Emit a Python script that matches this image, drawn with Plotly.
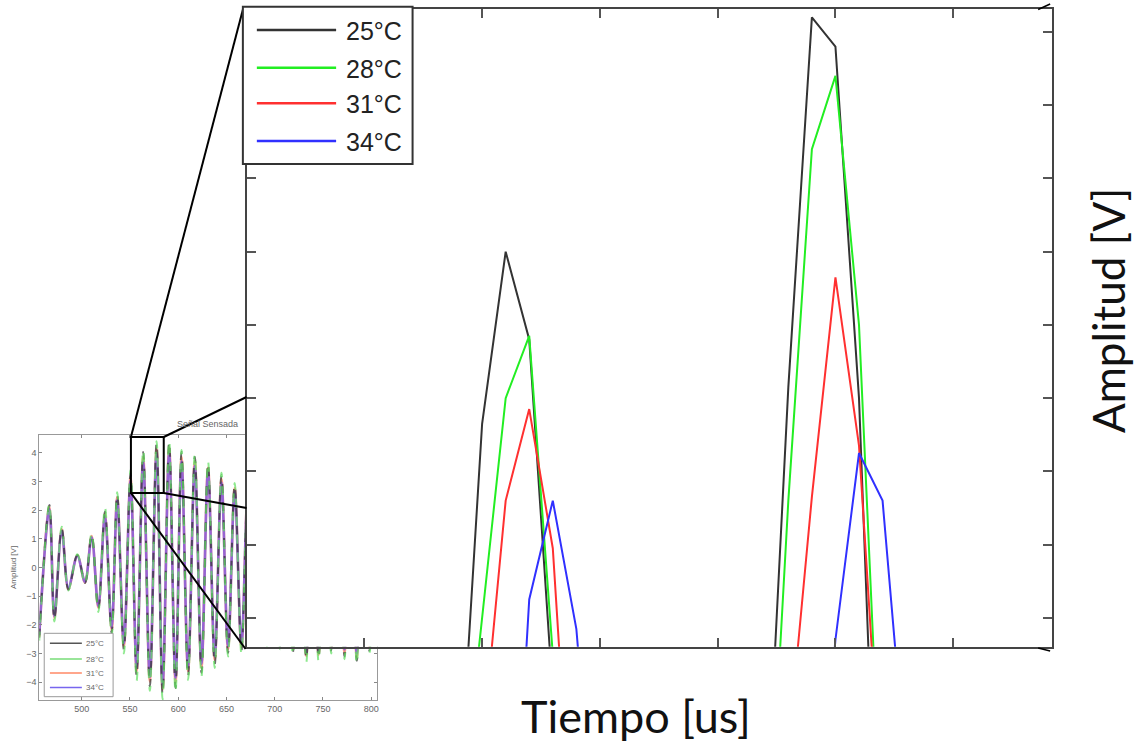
import plotly.graph_objects as go

# ---------------- data: overview signal (extrema) ----------------
t_small = [456, 466.5, 471.7, 479.3, 486.2, 495.5, 503.4, 510.3, 517.2, 524.1,
           531, 536.8, 543.7, 550.6, 556.9, 563.7, 570.6, 577.6, 583.8, 590.6,
           597.2, 603.4, 610.2, 617.2, 624.1, 630.9, 637.8, 644.8, 651.6, 658.5,
           665.5, 672, 678.5, 685, 692, 698.5, 705.5, 712, 718.8, 725.5,
           732.7, 739, 745.4, 752, 758.5, 765.5, 772.3, 778.5, 785, 791.5,
           798, 805]
amp_25 = [-2.45, 2.18, -1.82, 1.37, -0.78, 0.44, -0.54, 1.14, -1.47, 1.95,
          -2.28, 2.56, -2.86, 3.28, -3.79, 4.03, -4.14, 4.35, -4.43, 4.38,
          -4.20, 4.03, -3.79, 3.86, -3.67, 3.63, -3.38, 3.22, -2.98, 2.88,
          -2.90, 2.70, -2.70, 2.60, -2.65, 2.60, -2.75, 2.70, -2.95, 2.80,
          -3.20, 2.80, -3.15, 2.70, -2.90, 2.70, -3.10, 2.80, -3.25, 2.80,
          -2.90, 2.50]
amp_28 = [-2.55, 2.22, -1.88, 1.42, -0.80, 0.46, -0.56, 1.20, -1.55, 2.10,
          -2.40, 2.62, -3.00, 3.40, -3.95, 4.10, -4.30, 4.40, -4.60, 4.42,
          -4.35, 4.10, -3.92, 3.95, -3.80, 3.70, -3.50, 3.30, -3.10, 2.95,
          -3.00, 2.78, -2.80, 2.66, -2.75, 2.66, -2.85, 2.76, -3.05, 2.86,
          -3.30, 2.86, -3.28, 2.76, -3.00, 2.76, -3.20, 2.86, -3.35, 2.86,
          -3.00, 2.55]
amp_31 = [-2.40, 2.12, -1.76, 1.33, -0.74, 0.42, -0.52, 1.10, -1.40, 1.88,
          -2.18, 2.45, -2.75, 3.15, -3.62, 3.85, -3.98, 4.15, -4.25, 4.18,
          -4.02, 3.86, -3.62, 3.70, -3.50, 3.48, -3.22, 3.08, -2.85, 2.76,
          -2.78, 2.60, -2.60, 2.50, -2.55, 2.50, -2.64, 2.60, -2.84, 2.70,
          -3.08, 2.70, -3.04, 2.60, -2.80, 2.60, -2.98, 2.70, -3.12, 2.70,
          -2.80, 2.40]
amp_34 = [-2.35, 2.05, -1.70, 1.28, -0.70, 0.40, -0.50, 1.05, -1.34, 1.80,
          -2.10, 2.35, -2.64, 3.02, -3.48, 3.70, -3.82, 4.00, -4.10, 4.02,
          -3.86, 3.70, -3.48, 3.55, -3.36, 3.34, -3.10, 2.96, -2.74, 2.65,
          -2.67, 2.50, -2.50, 2.40, -2.45, 2.40, -2.54, 2.50, -2.72, 2.60,
          -2.96, 2.60, -2.92, 2.50, -2.70, 2.50, -2.86, 2.60, -3.00, 2.60,
          -2.70, 2.30]

# ---------------- data: zoomed window (samples) ----------------
zx_25 = [559, 560, 561, 562, 563, 564, 572, 573, 574, 575, 576, 577]
zy_25 = [2.28, 3.33, 3.80, 3.56, 2.59, 2.20, 2.16, 3.43, 4.44, 4.36, 3.40, 1.69]
zx_28 = [559, 560, 561, 562, 563, 564, 572, 573, 574, 575, 576, 577]
zy_28 = [2.20, 2.80, 3.40, 3.57, 2.70, 2.20, 1.96, 3.12, 4.08, 4.28, 3.60, 2.16]
zx_31 = [560, 561, 562, 563, 564, 573, 574, 575, 576, 577]
zy_31 = [2.44, 3.12, 3.37, 2.99, 1.98, 2.44, 3.13, 3.73, 3.27, 2.25]
zx_34 = [561, 562, 563, 564, 565, 574, 575, 576, 577, 578]
zy_34 = [1.75, 2.85, 3.12, 2.77, 2.00, 2.00, 2.74, 3.25, 3.12, 2.37]

labels = ["25°C", "28°C", "31°C", "34°C"]
small_ticks_x = [500, 550, 600, 650, 700, 750, 800]
small_ticks_y = [-4, -3, -2, -1, 0, 1, 2, 3, 4]
zoom_ticks_x = [555, 560, 565, 570, 575, 580]
zoom_ticks_y = [2.8, 3.0, 3.2, 3.4, 3.6, 3.8, 4.0, 4.2, 4.4]
zoom_box_x = [551, 585]
zoom_box_y = [2.6, 4.55]

# ---------------- layout geometry ----------------
W, H = 1142, 742
def PX(px): return px / W
def PY(py): return 1 - py / H

sm_dom_x = [PX(39.3), PX(377.7)]
sm_dom_y = [PY(700), PY(435)]
sm_xr = [456, 806]
sm_yr = [-4.62, 4.62]
in_dom_x = [PX(247), PX(1054)]
in_dom_y = [PY(646.7), PY(9.3)]
in_xr = [550.0, 584.2]
in_yr = [2.721, 4.462]

def sx(v):
    return sm_dom_x[0] + (v - sm_xr[0]) / (sm_xr[1] - sm_xr[0]) * (sm_dom_x[1] - sm_dom_x[0])
def sy(v):
    return sm_dom_y[0] + (v - sm_yr[0]) / (sm_yr[1] - sm_yr[0]) * (sm_dom_y[1] - sm_dom_y[0])

fig = go.Figure()

# small overview chart (drawing order chosen so colours blend like the reference)
small_series = [
    (labels[2], amp_31, "#ff7a5c", "solid", 2.6, 0.7),
    (labels[3], amp_34, "#6a4cf0", "solid", 2.6, 0.7),
    (labels[0], amp_25, "#3a3a3a", "dash", 2.0, 0.75),
    (labels[1], amp_28, "#5ee05e", "dash", 2.0, 0.7),
]
for name, ys, col, dash, w, op in small_series:
    fig.add_trace(go.Scatter(
        x=t_small, y=ys, mode="lines", name=name, showlegend=False,
        line=dict(color=col, width=w, dash=dash, shape="spline", smoothing=1.0),
        opacity=op, xaxis="x", yaxis="y", hoverinfo="skip"))

# zoomed chart
zoom_series = [
    (labels[0], zx_25, zy_25, "#333333"),
    (labels[1], zx_28, zy_28, "#22ee22"),
    (labels[2], zx_31, zy_31, "#ff3030"),
    (labels[3], zx_34, zy_34, "#3030ff"),
]
for name, xs, ys, col in zoom_series:
    fig.add_trace(go.Scatter(
        x=xs, y=ys, mode="lines", name=name, showlegend=False,
        line=dict(color=col, width=2), xaxis="x2", yaxis="y2", hoverinfo="skip"))

small_axis = dict(ticks="inside", ticklen=3, tickcolor="#888", showline=True, linecolor="#999",
                  linewidth=1, mirror="ticks", showgrid=False, zeroline=False,
                  tickfont=dict(size=9, color="#666", family="Liberation Sans"))
zoom_axis = dict(ticks="inside", ticklen=9, tickwidth=1.5, tickcolor="#555", showline=True,
                 linecolor="#444", linewidth=2, mirror="ticks", showgrid=False, zeroline=False,
                 showticklabels=False)

shapes = []
annotations = []

# small chart legend (drawn box)
sm_leg_rows = [643.3, 659, 673, 687.5]
sm_leg_cols = ["#555555", "#77dd77", "#ff8866", "#7766ee"]
shapes.append(dict(type="rect", xref="paper", yref="paper", x0=PX(44.3), x1=PX(113.3),
                   y0=PY(696.7), y1=PY(633.3), fillcolor="white", line=dict(color="#999", width=1),
                   layer="above"))
for name, col, row in zip(labels, sm_leg_cols, sm_leg_rows):
    shapes.append(dict(type="line", xref="paper", yref="paper", x0=PX(50), x1=PX(82),
                       y0=PY(row), y1=PY(row), line=dict(color=col, width=1.5), layer="above"))
    annotations.append(dict(text=name, xref="paper", yref="paper", x=PX(84), y=PY(row),
                            xanchor="left", yanchor="middle", showarrow=False,
                            font=dict(size=8, color="#666", family="Liberation Sans")))

# zoom box in overview
shapes.append(dict(type="rect", xref="x", yref="y", x0=zoom_box_x[0], x1=zoom_box_x[1],
                   y0=zoom_box_y[0], y1=zoom_box_y[1], line=dict(color="black", width=2), layer="above"))
# connectors
conn = [
    ((zoom_box_x[0], zoom_box_y[1]), (244, 7)),
    ((zoom_box_x[1], zoom_box_y[1]), (247, 397)),
    ((zoom_box_x[0], zoom_box_y[0]), (246, 649)),
    ((zoom_box_x[1], zoom_box_y[0]), (247, 508)),
]
for (dx, dy), (px, py) in conn:
    shapes.append(dict(type="line", xref="paper", yref="paper", x0=sx(dx), y0=sy(dy),
                       x1=PX(px), y1=PY(py), line=dict(color="black", width=2), layer="above"))
# little stubs at inset right corners
shapes.append(dict(type="line", xref="paper", yref="paper", x0=PX(1040), y0=PY(9.5), x1=PX(1052), y1=PY(4),
                   line=dict(color="black", width=1.5), layer="above"))
shapes.append(dict(type="line", xref="paper", yref="paper", x0=PX(1040), y0=PY(648), x1=PX(1052), y1=PY(651),
                   line=dict(color="black", width=1.5), layer="above"))

# inset legend (drawn box)
leg_rows = [30, 67.7, 103.3, 141]
shapes.append(dict(type="rect", xref="paper", yref="paper", x0=PX(243.3), x1=PX(413.3),
                   y0=PY(164), y1=PY(6.7), fillcolor="white", line=dict(color="#333", width=2), layer="above"))
for (name, xs, ys, col), row in zip(zoom_series, leg_rows):
    shapes.append(dict(type="line", xref="paper", yref="paper", x0=PX(257.3), x1=PX(336.7),
                       y0=PY(row), y1=PY(row), line=dict(color=col, width=2.5), layer="above"))
    annotations.append(dict(text=name, xref="paper", yref="paper", x=PX(345), y=PY(row + 1),
                            xanchor="left", yanchor="middle", showarrow=False,
                            font=dict(size=25, color="#222", family="Liberation Sans")))

annotations += [
    dict(text="Señal Sensada", xref="paper", yref="paper", x=PX(208), y=PY(424), showarrow=False,
         xanchor="center", yanchor="middle", font=dict(size=9, color="#666", family="Liberation Sans")),
    dict(text="Amplitud [V]", xref="paper", yref="paper", x=PX(13), y=PY(567), showarrow=False,
         textangle=-90, xanchor="center", yanchor="middle",
         font=dict(size=8, color="#666", family="Liberation Sans")),
    dict(text="Tiempo [us]", xref="paper", yref="paper", x=PX(637), y=PY(716), showarrow=False,
         xanchor="center", yanchor="middle", font=dict(size=45, color="#111", family="Lato")),
    dict(text="Amplitud [V]", xref="paper", yref="paper", x=PX(1110), y=PY(311), showarrow=False,
         textangle=-90, xanchor="center", yanchor="middle",
         font=dict(size=44, color="#111", family="Lato")),
]

fig.update_layout(
    width=W, height=H, autosize=False,
    margin=dict(l=0, r=0, t=0, b=0),
    paper_bgcolor="white", plot_bgcolor="white",
    xaxis=dict(domain=sm_dom_x, range=sm_xr, tickvals=small_ticks_x, anchor="y", **small_axis),
    yaxis=dict(domain=sm_dom_y, range=sm_yr, tickvals=small_ticks_y, anchor="x", **small_axis),
    xaxis2=dict(domain=in_dom_x, range=in_xr, tickvals=zoom_ticks_x, anchor="y2", **zoom_axis),
    yaxis2=dict(domain=in_dom_y, range=in_yr, tickvals=zoom_ticks_y, anchor="x2", **zoom_axis),
    shapes=shapes, annotations=annotations,
    showlegend=False,
)

fig.write_html("out.html", config={"displayModeBar": False})
